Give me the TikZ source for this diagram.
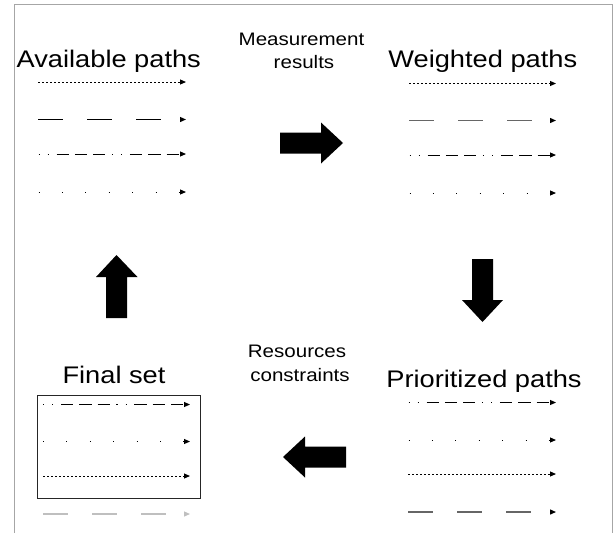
\documentclass[tikz,border=0pt]{standalone}
\usepackage{fontspec}
\newfontfamily\wide[FakeStretch=1.135]{Liberation Sans}
\usetikzlibrary{arrows.meta}
\tikzset{
  pth/.style={line width=1pt, -{Triangle[length=6pt,width=5pt]}},
  dens/.style={pth, dash pattern=on 2pt off 2pt},
  longd/.style={pth, line width=1.2pt, dash pattern=on 24.5pt off 24.5pt},
  longdg/.style={line width=1.3pt, draw=black!60, dash pattern=on 24.5pt off 24.5pt,
     -{Triangle[length=6pt,width=5pt,color=black,fill=black]}},
  dashdot/.style={pth, dash pattern=on 1.2pt off 8pt on 1.2pt off 7.6pt on 12.3pt off 6pt on 12.3pt off 6pt on 12.3pt off 6.5pt},
  sparse/.style={pth, dash pattern=on 1pt off 22.4pt},
  bigtitle/.style={anchor=base, inner sep=0pt, font=\wide\fontsize{24}{28}\selectfont},
  smalltitle/.style={anchor=base, inner sep=0pt, font=\wide\fontsize{18.1}{22}\selectfont},
  blockarrow/.style={fill=black},
  frameline/.style={draw=black!35, line width=1pt}
}
\begin{document}
\begin{tikzpicture}[x=1pt,y=-1pt]
\useasboundingbox (0,0) rectangle (616,533);
% frame
\draw[frameline] (14.5,533) -- (14.5,4.5) -- (612,4.5) -- (612,533);

% titles
\node[bigtitle] (avail) at (108.8,67) {Available paths};
\node[bigtitle] (weight) at (482.8,67) {Weighted paths};
\node[bigtitle] (final) at (114,383) {Final set};
\node[bigtitle] (prio) at (484,387) {Prioritized paths};
\node[smalltitle] (meas1) at (301.5,45.7) {Measurement};
\node[smalltitle] (meas2) at (304,68.3) {results};
\node[smalltitle] (res1) at (297,357) {Resources};
\node[smalltitle] (res2) at (300,381) {constraints};

% available paths
\draw[dens] (38,82) -- (186,82);
\draw[longd] (38,119.5) -- (186,119.5);
\draw[dashdot] (38.5,154) -- (186,154);
\draw[sparse] (38.5,192) -- (186,192);

% weighted paths
\draw[dens] (409,83.5) -- (556,83.5);
\draw[longdg] (409,120.5) -- (556,120.5);
\draw[dashdot] (409.5,155) -- (556,155);
\draw[sparse] (409.5,193) -- (556,193);

% prioritized paths
\draw[dashdot] (408.5,402.5) -- (556,402.5);
\draw[sparse] (408.5,440) -- (556,440);
\draw[dens] (408,474) -- (556,474);
\draw[longdg] (408,512) -- (556,512);

% final set
\draw[line width=1.2pt, draw=black!85] (37.7,395.7) rectangle (200.3,498.3);
\draw[dashdot] (43,404.5) -- (190,404.5);
\draw[sparse] (43,441.5) -- (190,441.5);
\draw[dens] (43,476) -- (190,476);
\draw[longd, draw=black!25] (43,514) -- (190,514);

% block arrows
\fill[blockarrow] (280,132.5) -- (321,132.5) -- (321,122.5) -- (343,143) -- (321,163.5) -- (321,153.5) -- (280,153.5) -- cycle;
\fill[blockarrow] (472,259) -- (493,259) -- (493,300) -- (503,300) -- (482.5,322) -- (462,300) -- (472,300) -- cycle;
\fill[blockarrow] (346,446.5) -- (305,446.5) -- (305,436.5) -- (283,457) -- (305,477.5) -- (305,467.5) -- (346,467.5) -- cycle;
\fill[blockarrow] (106,318) -- (127,318) -- (127,277) -- (137.5,277) -- (116.5,255) -- (96,277) -- (106,277) -- cycle;
\end{tikzpicture}
\end{document}
